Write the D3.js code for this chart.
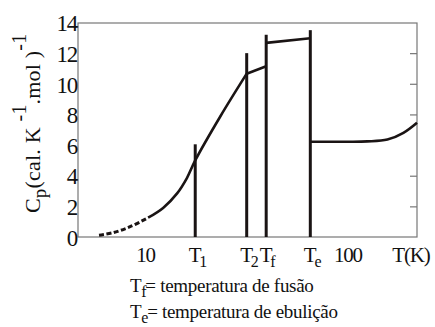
<!DOCTYPE html>
<html>
<head>
<meta charset="utf-8">
<script src="https://cdn.jsdelivr.net/npm/d3@7"></script>
<style>
  body { margin: 0; background: #fff; }
</style>
</head>
<body>
<div id="chart"></div>
<script>
var FONT = "'Liberation Serif', Tinos, 'Times New Roman', 'DejaVu Serif', serif";

// transition temperatures (K)
var T1 = 17.7, T2 = 31.8, Tf = 39.7, Te = 65.6;

// y axis labels
var yTicks = [0, 2, 4, 6, 8, 10, 12, 14];
var rightTicks = [2, 4, 8, 10, 12];

// x axis labels: value, main text, subscript
var xTickT = [10, T1, T2, Tf, Te, 100, 205];
var xTickMain = ["10", "T", "T", "T", "T", "100", "T(K)"];
var xTickSub = ["", "1", "2", "f", "e", "", ""];

// vertical marker lines at transitions
var markT = [T1, T2, Tf, Te];
var markTop = [6.05, 12.0, 13.2, 13.5];

// Cp curve pieces
var extrapT = [5.92, 6.94, 8.43, 10.35];
var extrapCp = [0.12, 0.28, 0.67, 1.26];
var solidT = [10.35, 12.28, 14.4, 16.1, 17.7, 23.5, 31.8];
var solidCp = [1.26, 1.9, 2.85, 3.85, 5.0, 7.85, 10.66];
var solid2T = [31.8, 39.7];
var solid2Cp = [10.66, 11.15];
var liquidT = [39.7, 65.6];
var liquidCp = [12.67, 12.97];
var gasT = [65.6, 100, 125.6, 157.8, 189.3, 221];
var gasCp = [6.22, 6.22, 6.24, 6.36, 6.8, 7.46];

var width = 435, height = 327;
var mLeft = 78, mRight = 417, mTop = 23, mBottom = 237;

var x = d3.scaleLog().domain([4.66, 221]).range([mLeft, mRight]);
var y = d3.scaleLinear().domain([0, 14]).range([mBottom, 22.5]);

var svg = d3.select('#chart').append('svg')
  .attr('width', width)
  .attr('height', height)
  .style('font-family', FONT);

// frame
svg.append('rect')
  .attr('x', mLeft).attr('y', mTop)
  .attr('width', mRight - mLeft).attr('height', mBottom - mTop)
  .attr('fill', 'none')
  .attr('stroke', '#777')
  .attr('stroke-width', 1.2);

// left labels
var yAxis = svg.append('g')
  .attr('transform', 'translate(' + mLeft + ',0)')
  .call(d3.axisLeft(y).tickValues(yTicks).tickSize(0).tickPadding(1));
yAxis.attr('font-family', null);
yAxis.select('.domain').remove();
yAxis.selectAll('text')
  .style('font-family', FONT)
  .style('font-size', '23px')
  .style('letter-spacing', '-1.2px')
  .attr('dy', '0.36em')
  .attr('fill', '#111');

// right inward ticks
var rAxis = svg.append('g')
  .attr('transform', 'translate(' + mRight + ',0)')
  .call(d3.axisLeft(y).tickValues(rightTicks).tickSize(7).tickFormat(''));
rAxis.select('.domain').remove();
rAxis.selectAll('line').attr('stroke', '#777').attr('stroke-width', 1.2);

// bottom labels
var xAxis = svg.append('g')
  .attr('transform', 'translate(0,' + mBottom + ')')
  .call(d3.axisBottom(x).tickValues(xTickT).tickSize(0).tickFormat(''));
xAxis.attr('font-family', null);
xAxis.select('.domain').remove();
xAxis.selectAll('.tick text').each(function (d, i) {
  var t = d3.select(this)
    .attr('y', 25)
    .attr('dy', 0)
    .style('font-family', FONT)
    .style('font-size', '21px')
    .style('letter-spacing', '-1.2px')
    .attr('fill', '#111');
  if (xTickSub[i]) {
    t.attr('text-anchor', 'start').attr('x', -7);
    t.append('tspan').text(xTickMain[i]);
    t.append('tspan').text(xTickSub[i])
      .attr('dx', -1).attr('dy', 5)
      .style('font-size', '16px');
  } else {
    t.text(xTickMain[i]);
  }
});

// marker lines
svg.selectAll('.mark')
  .data(markT)
  .enter()
  .append('line')
  .attr('class', 'mark')
  .attr('x1', function (d) { return x(d); })
  .attr('x2', function (d) { return x(d); })
  .attr('y1', y(0))
  .attr('y2', function (d, i) { return y(markTop[i]); })
  .attr('stroke', '#1a1414')
  .attr('stroke-width', 3);

var line = d3.line()
  .x(function (d) { return x(d[0]); })
  .y(function (d) { return y(d[1]); })
  .curve(d3.curveCatmullRom.alpha(0.5));

function pairs(ts, cs) {
  return ts.map(function (t, i) { return [t, cs[i]]; });
}

svg.append('path')
  .attr('d', line(pairs(extrapT, extrapCp)))
  .attr('fill', 'none')
  .attr('stroke', '#1a1414')
  .attr('stroke-width', 3)
  .attr('stroke-dasharray', '5,2.5');

[[solidT, solidCp], [solid2T, solid2Cp], [liquidT, liquidCp], [gasT, gasCp]].forEach(function (s) {
  svg.append('path')
    .attr('d', line(pairs(s[0], s[1])))
    .attr('fill', 'none')
    .attr('stroke', '#1a1414')
    .attr('stroke-width', 2.6);
});

// y title
var yt = svg.append('text')
  .attr('transform', 'translate(40,213) rotate(-90)')
  .style('font-family', FONT)
  .style('font-size', '22px')
  .style('letter-spacing', '0.2px')
  .attr('fill', '#111');
yt.append('tspan').text('C');
yt.append('tspan').text('p').attr('dy', 6).style('font-size', '19px');
yt.append('tspan').text('(cal. K ').attr('dy', -6);
yt.append('tspan').text('-1').attr('dy', -14).style('font-size', '20px');
yt.append('tspan').text('.mol )').attr('dy', 14);
yt.append('tspan').text('-1').attr('dy', -14).style('font-size', '20px');

// notes under the chart
var notes = [["f", "= temperatura de fusão"], ["e", "= temperatura de ebulição"]];
var noteY = [292, 318];
notes.forEach(function (n, i) {
  var t = svg.append('text')
    .attr('x', 130).attr('y', noteY[i])
    .style('font-family', FONT)
    .style('font-size', '19px')
    .style('letter-spacing', '-0.3px')
    .attr('fill', '#111');
  t.append('tspan').text('T');
  t.append('tspan').text(n[0]).attr('dx', 0).attr('dy', 5).style('font-size', '16px');
  t.append('tspan').text(n[1]).attr('dx', -1).attr('dy', -5);
});
</script>
</body>
</html>
